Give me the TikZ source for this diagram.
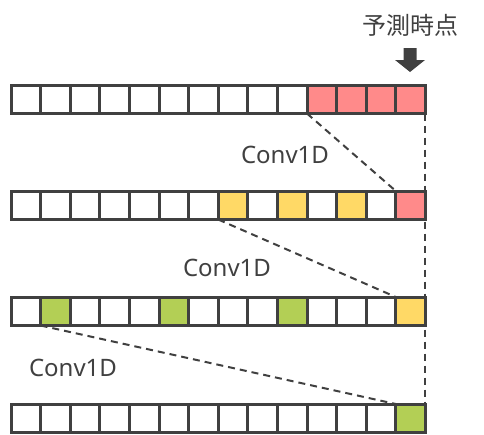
\documentclass[tikz,border=0pt]{standalone}
\usepackage{fontspec}
\setmainfont{Noto Sans}
\newfontfamily\cjk{Noto Sans CJK JP}
\definecolor{edge}{HTML}{404040}
\definecolor{pinkc}{HTML}{FF8A8A}
\definecolor{yellowc}{HTML}{FFD966}
\definecolor{greenc}{HTML}{B3CF55}
\begin{document}
\begin{tikzpicture}[x=1pt,y=-1pt,
 cell/.style={draw=edge,line width=3pt,minimum width=29.6pt,minimum height=28.5pt,inner sep=0pt,outer sep=0pt,anchor=north west},
 conn/.style={draw=edge,line width=2pt,dash pattern=on 7pt off 5pt},
 lbl/.style={text=edge,font=\fontsize{24}{28}\selectfont,inner sep=0pt}]
\useasboundingbox (0,0) rectangle (484,434);
\foreach \r/\y/\cols in {
 1/85/{white,white,white,white,white,white,white,white,white,white,pinkc,pinkc,pinkc,pinkc},
 2/191/{white,white,white,white,white,white,white,yellowc,white,yellowc,white,yellowc,white,pinkc},
 3/297/{white,greenc,white,white,white,greenc,white,white,white,greenc,white,white,white,yellowc},
 4/404/{white,white,white,white,white,white,white,white,white,white,white,white,white,greenc}}{
  \foreach \f [count=\c from 0] in \cols {
    \node[cell,fill=\f] (r\r c\c) at ({11+29.6*\c},\y) {};
  }
}
\draw[conn] (r1c10.south west) -- (r2c13.north west);
\draw[conn] (r2c7.south west) -- (r3c13.north west);
\draw[conn] (r3c1.south west) -- (r4c13.north west);
\draw[conn] (r1c13.south east) -- (r4c13.north east);
\node[lbl] (c1) at (285,155) {Conv1D};
\node[lbl] (c2) at (227,268) {Conv1D};
\node[lbl] (c3) at (73,368) {Conv1D};
\node[lbl,font=\cjk\fontsize{24}{28}\selectfont] (pt) at (410,25) {予測時点};
\fill[edge] (403.5,48) -- (416.5,48) -- (416.5,60) -- (425,60) -- (410,72) -- (395,60) -- (403.5,60) -- cycle;
\end{tikzpicture}
\end{document}
